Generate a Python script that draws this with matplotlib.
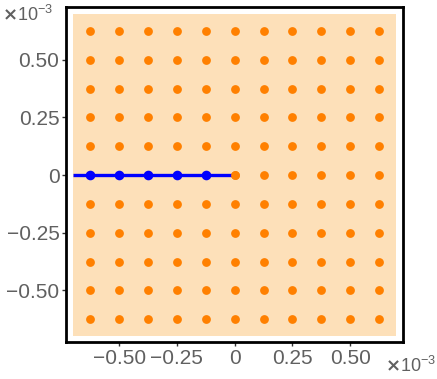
import matplotlib
matplotlib.use("Agg")
import matplotlib.pyplot as plt
from matplotlib.patches import Rectangle

# ---- data (axis units of 10^-3) ----
grid_x = [-0.625, -0.5, -0.375, -0.25, -0.125, 0.0, 0.125, 0.25, 0.375, 0.5, 0.625]
grid_y = [-0.625, -0.5, -0.375, -0.25, -0.125, 0.0, 0.125, 0.25, 0.375, 0.5, 0.625]
path_x = [-0.70, 0.0]
path_y = [0.0, 0.0]
path_pts_x = [-0.625, -0.5, -0.375, -0.25, -0.125]
path_pts_y = [0.0, 0.0, 0.0, 0.0, 0.0]
region = (-0.70, 0.70, -0.70, 0.70)
tick_vals = [-0.5, -0.25, 0.0, 0.25, 0.5]
tick_labels = ["\u22120.50", "\u22120.25", "0", "0.25", "0.50"]

plt.rcParams['font.family'] = ['Liberation Sans', 'DejaVu Sans']
plt.rcParams['mathtext.fontset'] = 'custom'
plt.rcParams['mathtext.rm'] = 'Liberation Sans'
grey = '#606060'

fig = plt.figure(figsize=(4.37, 3.79), dpi=100)
ax = fig.add_axes([0.152, 0.097, 0.770, 0.884])

# shaded region
ax.add_patch(Rectangle((region[0], region[2]), region[1] - region[0], region[3] - region[2],
                       facecolor='#fde0b9', edgecolor='none', zorder=0))

# grid of orange points
gx = [x for y in grid_y for x in grid_x]
gy = [y for y in grid_y for x in grid_x]
ax.scatter(gx, gy, s=40, color='#ff8000', linewidths=0, zorder=2)

# blue path with its points
ax.plot(path_x, path_y, color='#0000ff', lw=2.4, zorder=3, solid_capstyle='butt')
ax.scatter(path_pts_x, path_pts_y, s=48, color='#0000ff', linewidths=0, zorder=4)
ax.scatter([0.0], [0.0], s=40, color='#ff8000', linewidths=0, zorder=5)

ax.set_xlim(-0.728, 0.728)
ax.set_ylim(-0.725, 0.728)

ax.set_xticks(tick_vals)
ax.set_xticklabels(tick_labels)
ax.set_yticks(tick_vals)
ax.set_yticklabels(tick_labels)
ax.tick_params(direction='out', length=3, width=1, color='#333333',
               labelsize=15, labelcolor=grey, pad=2)

for sp in ax.spines.values():
    sp.set_linewidth(2)
    sp.set_color('black')

# exponent labels
expo = r'$\mathbf{\times}\mathrm{10}^{-3}$'
fig.text(0.005, 0.988, expo, color=grey, fontsize=13, ha='left', va='top')
fig.text(0.997, 0.008, expo, color=grey, fontsize=13, ha='right', va='bottom')

fig.savefig('out.png', dpi=100)
